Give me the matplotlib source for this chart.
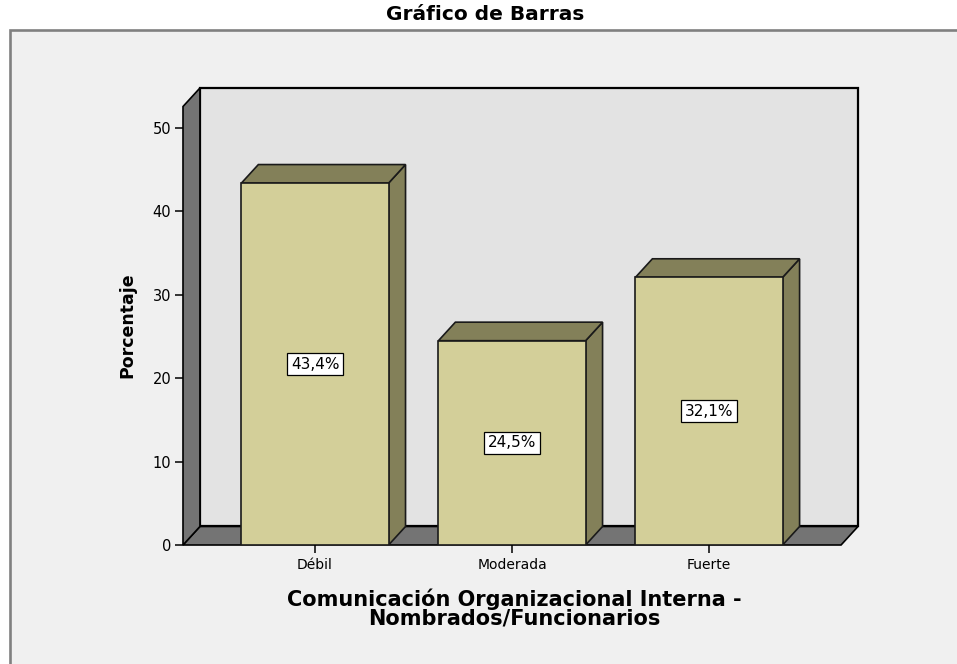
import matplotlib
matplotlib.use('Agg')
import matplotlib.pyplot as plt
from matplotlib.patches import Polygon, Rectangle

# data
categories = ['Débil', 'Moderada', 'Fuerte']
porcentajes = [43.4, 24.5, 32.1]
yticks = [0, 10, 20, 30, 40, 50]

# colours (SPSS style 3D bars)
front_col = '#d3cf99'
side_col = '#838059'
wall_col = '#e3e3e3'
floor_col = '#747474'
bg_col = '#f0f0f0'

W, H = 957, 664
fig = plt.figure(figsize=(W / 100, H / 100), dpi=100)
fig.patch.set_facecolor('white')

# outer frame of the chart area (runs off the right and bottom edge)
frame = Rectangle((9.5 / W, -0.1), 1.2, (1 - 30 / H) + 0.1, transform=fig.transFigure,
                  facecolor=bg_col, edgecolor='#808080', linewidth=1.9, zorder=-1)
fig.add_artist(frame)

# axes: front plane left at x=183px, back wall right at 858px, 0 at y=545, top wall at 88
ax = fig.add_axes([183 / W, 1 - 545 / H, (858 - 183) / W, (545 - 88) / H])
ax.set_facecolor('none')
for s in ax.spines.values():
    s.set_visible(False)

x0, x1 = -0.67, 2.67        # front plane extent in category units
dx, dy = 0.086, 2.22        # depth offset (data units)
ytop = 54.8
bar_w = 0.747

ax.set_xlim(x0, x1 + dx)
ax.set_ylim(0, ytop)

# back wall, floor and left wall
ax.add_patch(Polygon([(x0 + dx, dy), (x1 + dx, dy), (x1 + dx, ytop), (x0 + dx, ytop)],
                     closed=True, facecolor=wall_col, edgecolor='black', linewidth=1.6,
                     clip_on=False, zorder=1))
ax.add_patch(Polygon([(x0, 0), (x1, 0), (x1 + dx, dy), (x0 + dx, dy)],
                     closed=True, facecolor=floor_col, edgecolor='black', linewidth=1.2,
                     clip_on=False, zorder=2))
ax.add_patch(Polygon([(x0, 0), (x0 + dx, dy), (x0 + dx, ytop), (x0, ytop - dy)],
                     closed=True, facecolor=floor_col, edgecolor='black', linewidth=1.2,
                     clip_on=False, zorder=2))

# bars: side + top faces then the front face
xs = list(range(len(categories)))
for i, v in zip(xs, porcentajes):
    l, r = i - bar_w / 2, i + bar_w / 2
    ax.add_patch(Polygon([(r, 0), (r + dx, dy), (r + dx, v + dy), (r, v)], closed=True,
                         facecolor=side_col, edgecolor='#1a1a1a', linewidth=1.2, zorder=3))
    ax.add_patch(Polygon([(l, v), (r, v), (r + dx, v + dy), (l + dx, v + dy)], closed=True,
                         facecolor=side_col, edgecolor='#1a1a1a', linewidth=1.2, zorder=3))
ax.bar(xs, porcentajes, width=bar_w, color=front_col, edgecolor='#1a1a1a',
       linewidth=1.2, zorder=4)

# value labels in white boxes
for i, v in zip(xs, porcentajes):
    ax.text(i, v / 2, f'{v:.1f}'.replace('.', ',') + '%', ha='center', va='center',
            fontsize=11, zorder=5,
            bbox=dict(boxstyle='square,pad=0.25', facecolor='white', edgecolor='black',
                      linewidth=0.9))

ax.set_yticks(yticks)
ax.set_xticks(xs)
ax.set_xticklabels(categories)
ax.tick_params(axis='y', length=6, width=1.1, pad=2.5, labelsize=10.5)
ax.tick_params(axis='x', length=6, width=1.1, pad=3.5, labelsize=10)

# texts
fig.text(485.5 / W, 1 - 15 / H, 'Gráfico de Barras', ha='center', va='center',
         fontsize=14.5, fontweight='bold')
fig.text(127 / W, 1 - 325 / H, 'Porcentaje', rotation=90, ha='center', va='center',
         fontsize=12.5, fontweight='bold')
fig.text(514 / W, 1 - 608.5 / H, 'Comunicación Organizacional Interna -\nNombrados/Funcionarios',
         ha='center', va='center', fontsize=15, fontweight='bold', linespacing=0.85)

fig.savefig('out.png', dpi=100)
